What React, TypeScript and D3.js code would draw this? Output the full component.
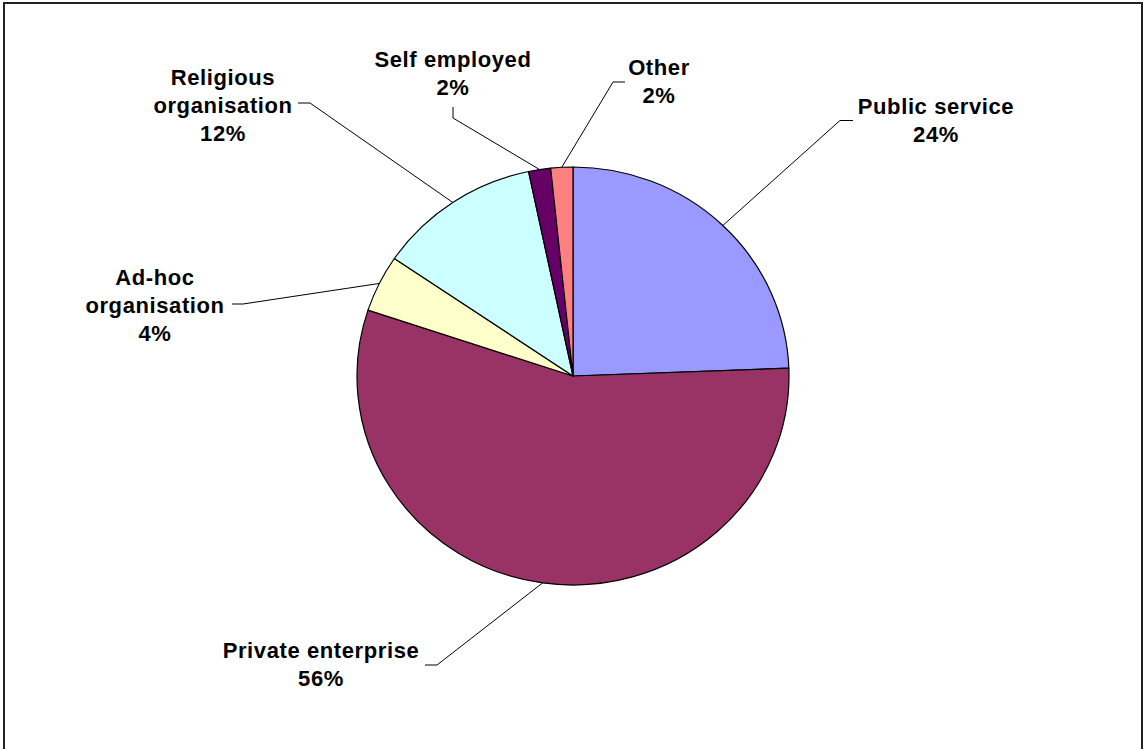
import React from "react";
import * as d3 from "d3";

const categories = [
  "Public service",
  "Private enterprise",
  "Ad-hoc organisation",
  "Religious organisation",
  "Self employed",
  "Other",
];
const values = [24.4, 55.7, 4.4, 12.2, 1.65, 1.65];
const colors = ["#9999FF", "#993366", "#FFFFCC", "#CCFFFF", "#660066", "#FF8080"];
const labelLines = [
  ["Public service"],
  ["Private enterprise"],
  ["Ad-hoc", "organisation"],
  ["Religious", "organisation"],
  ["Self employed"],
  ["Other"],
];

// layout: label center x, first baseline y, leader polyline points (from label side)
const labelLayout = [
  { x: 936, y: 114, leader: [[853, 120.5], [840, 120.5]] },
  { x: 321, y: 658, leader: [[425, 665], [437, 665]] },
  { x: 155, y: 285, leader: [[232, 304], [243, 304]] },
  { x: 223, y: 84.5, leader: [[298, 103], [310, 103]] },
  { x: 453, y: 67, leader: [[453, 107], [453, 118]] },
  { x: 659, y: 75, leader: [[625, 82], [613, 82]] },
];

const W = 1143;
const H = 749;
const cx = 573;
const cy = 376;
const rx = 216;
const ry = 209;
const lineH = 28;

export default function App() {
  const pie = d3
    .pie<number>()
    .sort(null)
    .value((d) => d)
    .startAngle(0)
    .endAngle(2 * Math.PI);
  const arcs = pie(values);
  const arc = d3.arc<d3.PieArcDatum<number>>().innerRadius(0).outerRadius(rx);
  const fontFamily = "'Liberation Sans', Arial, sans-serif";

  return (
    <div style={{ position: "absolute", left: 0, top: 0, width: W, height: H, overflow: "hidden" }}>
      <svg width={W} height={H} style={{ display: "block" }}>
        <rect x={0} y={0} width={W} height={H} fill="#fff" />
        <rect x={4} y={3} width={1138} height={780} fill="none" stroke="#222" strokeWidth={2} />
        <g transform={`translate(${cx},${cy}) scale(1,${ry / rx})`}>
          {arcs.map((a, i) => (
            <path
              key={i}
              d={arc(a) || ""}
              fill={colors[i]}
              stroke="#000"
              strokeWidth={1.2}
              vectorEffect="non-scaling-stroke"
              strokeLinejoin="round"
            />
          ))}
        </g>
        {arcs.map((a, i) => {
          const mid = (a.startAngle + a.endAngle) / 2;
          const px = cx + rx * Math.sin(mid);
          const py = cy - ry * Math.cos(mid);
          const pts = [...labelLayout[i].leader, [px, py]];
          const d = d3.line()(pts as [number, number][]) || "";
          return <path key={"l" + i} d={d} fill="none" stroke="#000" strokeWidth={1} />;
        })}
        {labelLayout.map((L, i) => {
          const lines = [...labelLines[i], `${Math.round(values[i])}%`];
          return (
            <text
              key={"t" + i}
              textAnchor="middle"
              fontFamily={fontFamily}
              fontWeight="bold"
              fontSize={22}
              letterSpacing={0.6}
              fill="#000"
            >
              {lines.map((s, j) => (
                <tspan key={j} x={L.x} y={L.y + j * lineH}>
                  {s}
                </tspan>
              ))}
            </text>
          );
        })}
      </svg>
    </div>
  );
}
